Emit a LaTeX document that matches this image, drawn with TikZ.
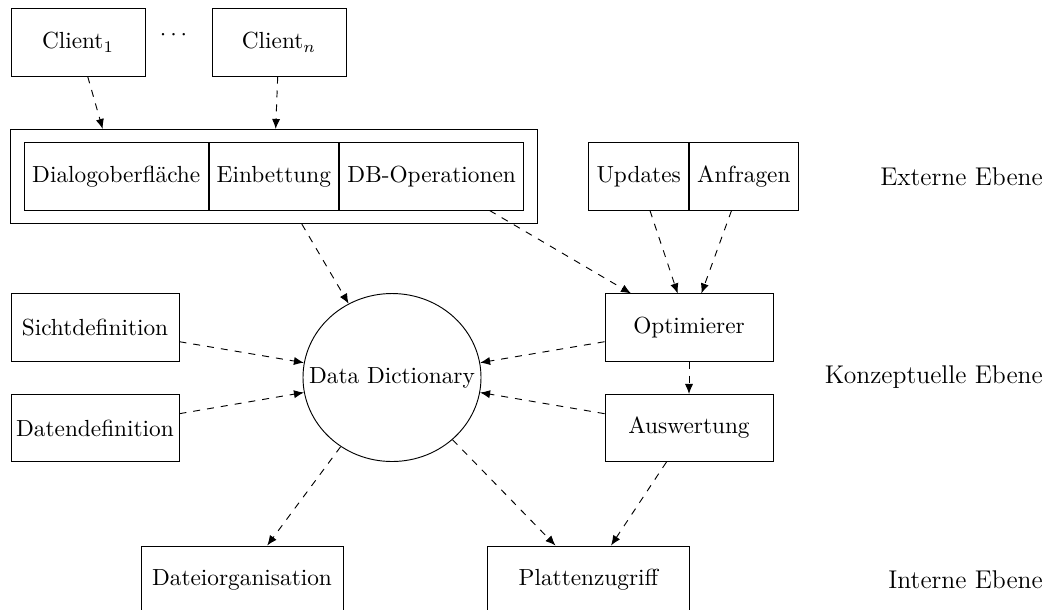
\documentclass[tikz,border=0pt]{standalone}
\usepackage{amsmath,amssymb}
\usepackage{tikz}
\usetikzlibrary{positioning,shapes.geometric,arrows.meta,fit}

\begin{document}
\begin{tikzpicture}[x=0.4292pt, y=-0.4292pt,
  block/.style={draw, rectangle, minimum height=28.8pt},
  flow/.style={-{Latex[length=4.3pt,width=3.5pt]}, dashed},
  level/.style={anchor=east, font=\fontsize{11}{13}\selectfont}]
\useasboundingbox (0,0) rectangle (1051,609);

% Clients
\node[block, minimum width=57.5pt] (client1) at (78,42.5) {Client$_1$};
\node (dots) at (175.5,35) {$\cdots$};
\node[block, minimum width=57.5pt] (clientn) at (279,42.5) {Client$_n$};

% Anwendung (extern)
\node[block, anchor=west] (dialog) at (24,176.5) {Dialogoberfl\"ache};
\node[block, right=0pt of dialog] (einbettung) {Einbettung};
\node[block, right=0pt of einbettung] (dbop) {DB-Operationen};
\node[draw, fit=(dialog)(dbop), inner sep=5.6pt] (outer) {};

\node[block, anchor=east] (updates) at (689,176.5) {Updates};
\node[block, right=0pt of updates] (anfragen) {Anfragen};

% Konzeptuelle Ebene
\node[block, minimum width=72.1pt, inner xsep=2pt] (sicht) at (95,327.5) {Sichtdefinition};
\node[block, minimum width=72.1pt, inner xsep=2pt] (daten) at (95,428) {Datendefinition};
\node[draw, ellipse, minimum width=76.4pt, minimum height=72.1pt, inner sep=0pt] (dd) at (392,377.5) {\makebox[0pt]{Data Dictionary}};
\node[block, minimum width=72.1pt] (optimierer) at (689,327.5) {Optimierer};
\node[block, minimum width=72.1pt] (auswertung) at (689,428) {Auswertung};

% Interne Ebene
\node[block, minimum width=86.7pt] (dateiorg) at (242,579.5) {Dateiorganisation};
\node[block, minimum width=86.7pt] (platten) at (588.5,579.5) {Plattenzugriff};

% Ebenen
\node[level] (extern) at (1051,176.5) {Externe Ebene};
\node[level] (konzept) at (1051,377.5) {Konzeptuelle Ebene};
\node[level] (intern) at (1051,579.5) {Interne Ebene};

% Pfeile
\draw[flow] (client1) -- (intersection of client1--dialog and outer.north west--outer.north east);
\draw[flow] (clientn) -- (intersection of clientn--einbettung and outer.north west--outer.north east);
\draw[flow] (intersection of einbettung--dd and outer.south west--outer.south east) -- (dd);
\draw[flow] (dbop) -- (optimierer);
\draw[flow] (updates) -- (optimierer);
\draw[flow] (anfragen) -- (optimierer);
\draw[flow] (sicht) -- (dd);
\draw[flow] (daten) -- (dd);
\draw[flow] (optimierer) -- (dd);
\draw[flow] (auswertung) -- (dd);
\draw[flow] (optimierer) -- (auswertung);
\draw[flow] (dd) -- (dateiorg);
\draw[flow] (dd) -- (platten);
\draw[flow] (auswertung) -- (platten);
\end{tikzpicture}
\end{document}
